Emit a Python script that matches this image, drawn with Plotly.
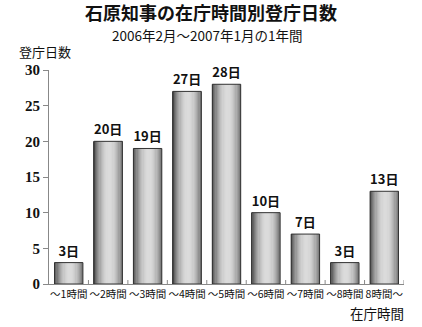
import plotly.graph_objects as go

categories = ["～1時間", "～2時間", "～3時間", "～4時間", "～5時間", "～6時間", "～7時間", "～8時間", "8時間～"]
days = [3, 20, 19, 27, 28, 10, 7, 3, 13]
labels = [f"{v}日" for v in days]
y_ticks = [0, 5, 10, 15, 20, 25, 30]

title = "石原知事の在庁時間別登庁日数"
subtitle = "2006年2月～2007年1月の1年間"
y_title = "登庁日数"
x_title = "在庁時間"

JP = "Noto Sans CJK JP"
BAR_W = 0.72
N = 24
W, H = 422, 327
ML, MR, MT, MB = 49, 18, 70, 43
pw = W - ML - MR
ph = H - MT - MB


def px(x):
    return (x - ML) / pw


def py(y):
    return (H - MB - y) / ph


fig = go.Figure()
xs = list(range(len(categories)))
for i in range(N):
    t = -1 + (i + 0.5) * 2 / N
    b = 70 + 150 * (1 - ((t - 0.1) / 1.1) ** 2)
    b = int(max(0, min(255, b)))
    col = f"rgb({b},{b},{b})"
    w = BAR_W / N
    fig.add_trace(go.Bar(
        x=xs, y=days,
        width=w * 1.3 if i < N - 1 else w,
        offset=-BAR_W / 2 + i * w,
        marker=dict(color=col, line=dict(width=0)),
        hoverinfo="skip", showlegend=False,
    ))

fig.add_trace(go.Bar(
    x=xs, y=days, width=BAR_W, offset=-BAR_W / 2,
    marker=dict(color="rgba(0,0,0,0)", line=dict(color="#333", width=1)),
    text=labels, textposition="outside", cliponaxis=False,
    textfont=dict(family=JP, size=13, color="#111", weight="bold"),
    showlegend=False,
))

fig.update_layout(
    width=W, height=H,
    margin=dict(l=ML, r=MR, t=MT, b=MB),
    paper_bgcolor="white", plot_bgcolor="white",
    barmode="overlay",
    showlegend=False,
    xaxis=dict(
        range=[-0.5, len(categories) - 0.5],
        tickmode="array", tickvals=xs, ticktext=categories,
        tickangle=0,
        showline=True, linecolor="#888", linewidth=1,
        ticks="",
        showgrid=False, zeroline=False,
        tickfont=dict(family=JP, size=10.5, color="#111"),
    ),
    yaxis=dict(
        range=[0, 30], tickvals=y_ticks,
        showline=True, linecolor="#888", linewidth=1,
        ticks="outside", ticklen=5, tickcolor="#888",
        showgrid=False, zeroline=False,
        tickfont=dict(family="Liberation Serif", size=15, color="#111", weight="bold"),
    ),
    annotations=[
        dict(text=f"<b>{title}</b>", x=px(211), y=py(12), xref="paper", yref="paper",
             xanchor="center", yanchor="middle", showarrow=False,
             font=dict(family=JP, size=18, color="#111")),
        dict(text=subtitle, x=px(207), y=py(35), xref="paper", yref="paper",
             xanchor="center", yanchor="middle", showarrow=False,
             font=dict(family=JP, size=13.5, color="#111")),
        dict(text=y_title, x=px(17), y=py(51), xref="paper", yref="paper",
             xanchor="left", yanchor="middle", showarrow=False,
             font=dict(family=JP, size=13, color="#111")),
        dict(text=x_title, x=px(406), y=py(313), xref="paper", yref="paper",
             xanchor="right", yanchor="middle", showarrow=False,
             font=dict(family=JP, size=13.5, color="#111")),
    ],
)

# small boundary ticks on the category axis
for k in range(1, len(categories) + 1):
    fig.add_shape(type="line", xref="x", yref="paper",
                  x0=k - 0.5, x1=k - 0.5, y0=0, y1=4 / ph,
                  line=dict(color="#888", width=1))

fig.write_html("out.html")
